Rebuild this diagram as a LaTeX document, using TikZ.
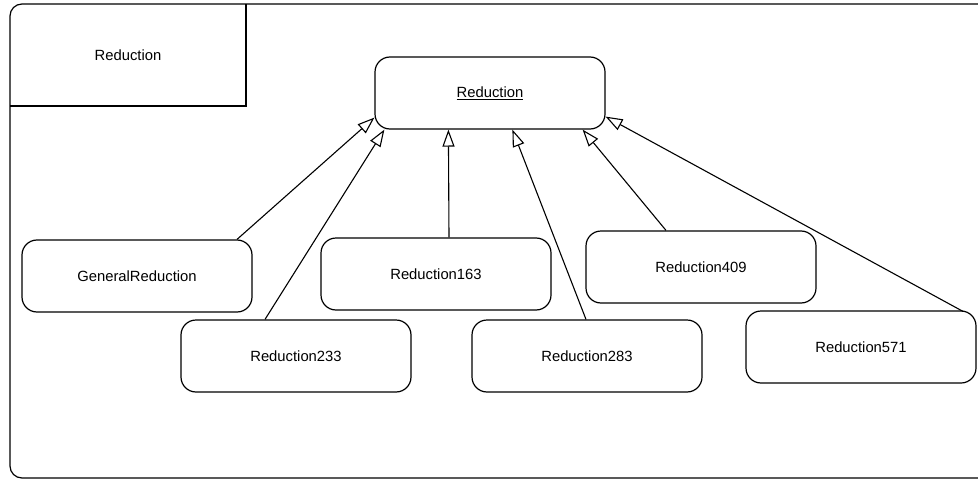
\documentclass[tikz,border=0pt]{standalone}
\usepackage{fontspec}
\setmainfont{Liberation Sans}
\usetikzlibrary{arrows.meta}
\tikzset{
  cls/.style={draw, line width=1.2pt, rounded corners=15pt, minimum width=230pt,
              minimum height=72pt, inner sep=0pt, font=\fontsize{14.8}{16}\selectfont},
  gen/.style={draw, line width=1.1pt,
              -{Triangle[open, length=17pt, width=12pt, line width=1.1pt]}},
  frame/.style={draw, line width=1.2pt}
}
\begin{document}
\begin{tikzpicture}[x=1pt, y=-1pt]
\useasboundingbox (0,0) rectangle (978,479);
\clip (0,0) rectangle (978,479);
% package frame with its name tab
\draw[frame, rounded corners=12pt] (10,4) rectangle (992,478);
\draw[frame] (10,106) -- (246,106) -- (246,4);
\node[font=\fontsize{14.8}{16}\selectfont] (tab) at (128,55) {Reduction};
% base class
\node[cls] (main) at (490,93) {\underline{Reduction}};
% subclasses
\node[cls] (gr)   at (137,276) {GeneralReduction};
\node[cls] (r233) at (296,356) {Reduction233};
\node[cls] (r163) at (436,274) {Reduction163};
\node[cls] (r283) at (587,356) {Reduction283};
\node[cls] (r409) at (701,267) {Reduction409};
\node[cls] (r571) at (861,347) {Reduction571};
% generalisation arrows
\draw[gen] ([xshift=100pt]gr.north)  -- ([yshift=12pt]main.south west);
\draw[gen] ([xshift=-31pt]r233.north) -- ([xshift=10pt]main.south west);
\draw[gen] ([xshift=13pt]r163.north) -- ([xshift=74pt]main.south west);
\draw[gen] ([xshift=-1pt]r283.north) -- ([xshift=138pt]main.south west);
\draw[gen] ([xshift=-35pt]r409.north) -- ([xshift=-23pt]main.south east);
\draw[gen] ([xshift=102pt,yshift=-1pt]r571.north) -- ([yshift=13pt]main.south east);
\end{tikzpicture}
\end{document}
